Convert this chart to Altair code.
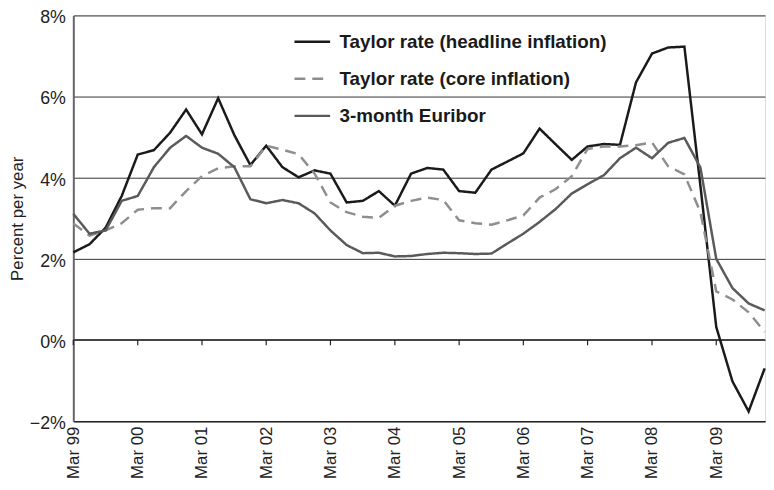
import altair as alt
import pandas as pd

# Quarterly observations, Mar 1999 .. Dec 2009
years = list(range(1999, 2010))
quarter_months = ["03", "06", "09", "12"]
quarters = [f"{y}-{m}-01T00:00:00" for y in years for m in quarter_months]

headline = [2.16, 2.36, 2.77, 3.55, 4.57, 4.68, 5.11, 5.68, 5.07, 5.96, 5.05, 4.31,
            4.79, 4.26, 4.01, 4.18, 4.10, 3.39, 3.43, 3.67, 3.31, 4.10, 4.24, 4.20,
            3.67, 3.63, 4.20, 4.40, 4.60, 5.21, 4.82, 4.44, 4.77, 4.83, 4.81, 6.35,
            7.06, 7.21, 7.23, 3.80, 0.32, -1.02, -1.76, -0.70]
core = [2.87, 2.57, 2.70, 2.88, 3.21, 3.25, 3.25, 3.67, 4.04, 4.23, 4.28, 4.28,
        4.79, 4.69, 4.58, 4.10, 3.39, 3.15, 3.04, 3.01, 3.31, 3.43, 3.51, 3.45,
        2.95, 2.88, 2.84, 2.95, 3.07, 3.51, 3.72, 4.04, 4.71, 4.77, 4.77, 4.80,
        4.87, 4.28, 4.08, 3.15, 1.20, 1.00, 0.68, 0.20]
euribor = [3.11, 2.62, 2.70, 3.43, 3.55, 4.26, 4.74, 5.03, 4.74, 4.59, 4.26, 3.47,
           3.37, 3.45, 3.37, 3.12, 2.70, 2.34, 2.14, 2.15, 2.06, 2.07, 2.12, 2.15,
           2.14, 2.12, 2.13, 2.38, 2.62, 2.91, 3.23, 3.61, 3.84, 4.06, 4.48, 4.74,
           4.48, 4.86, 4.98, 4.25, 2.00, 1.28, 0.90, 0.73]

series_names = ["Taylor rate (headline inflation)", "Taylor rate (core inflation)", "3-month Euribor"]
series_colors = ["#1a1a1a", "#8e8e8e", "#5a5a5a"]
series_dashes = [[1, 0], [11, 7], [1, 0]]

tick_dates = [f"{y}-03-01T00:00:00" for y in years]
y_ticks = [-2, 0, 2, 4, 6, 8]

rows = []
for name, vals in zip(series_names, [headline, core, euribor]):
    for q, v in zip(quarters, vals):
        rows.append({"date": q, "value": v, "series": name})
df = pd.DataFrame(rows)
ticks_df = pd.DataFrame({"date": tick_dates})

FONT = "Liberation Sans"

x_scale = alt.Scale(domain=[alt.DateTime(year=1999, month=3, date=1),
                            alt.DateTime(year=2009, month=12, date=3)], nice=False)
y_scale = alt.Scale(domain=[-2, 8], nice=False)

legend_kw = dict(title=None, orient="none", legendX=222, legendY=7,
                 symbolType="stroke", symbolSize=1296, symbolStrokeWidth=2.5,
                 labelOffset=8, labelFont=FONT, labelFontSize=19,
                 labelFontWeight="bold", labelColor="#1a1a1a",
                 rowPadding=7.5, padding=0, labelLimit=500)

lines = alt.Chart(df).mark_line(strokeWidth=2.5).encode(
    x=alt.X("date:T", scale=x_scale,
            axis=alt.Axis(values=[alt.DateTime(year=y, month=3, date=1) for y in years],
                          format="%b %y", labelAngle=270, labelAlign="right",
                          labelBaseline="middle", labelPadding=5, ticks=False,
                          grid=False, domain=True, domainColor="#222", domainWidth=1.5,
                          labelFont=FONT, labelFontSize=17, labelColor="#222",
                          title=None)),
    y=alt.Y("value:Q", scale=y_scale,
            axis=alt.Axis(values=y_ticks, grid=True, gridColor="#333", gridWidth=1,
                          ticks=False, domain=True, domainColor="#666", domainWidth=2,
                          labelExpr="(datum.value < 0 ? '\u2212' + abs(datum.value) : datum.value) + '%'",
                          labelFont=FONT, labelFontSize=18, labelColor="#222", labelPadding=8,
                          labelOffset=2.5,
                          title="Percent per year", titleFont=FONT, titleFontSize=17,
                          titleFontWeight="normal", titleColor="#222", titlePadding=3)),
    color=alt.Color("series:N", sort=series_names,
                    scale=alt.Scale(domain=series_names, range=series_colors),
                    legend=alt.Legend(**legend_kw)),
    strokeDash=alt.StrokeDash("series:N", sort=series_names,
                              scale=alt.Scale(domain=series_names, range=series_dashes),
                              legend=alt.Legend(**legend_kw)),
)

zero_line = alt.Chart(ticks_df).mark_rule(color="#444", strokeWidth=2).encode(
    y=alt.datum(0)
)

zero_ticks = alt.Chart(ticks_df).mark_rule(color="#222", strokeWidth=1.2).encode(
    x=alt.X("date:T", scale=x_scale),
    y=alt.datum(0),
    y2=alt.datum(-0.13),
)

chart = alt.layer(zero_line, zero_ticks, lines).properties(
    width=699, height=410,
    autosize=alt.AutoSizeParams(type="none"),
    padding={"left": 66, "top": 5, "right": 1, "bottom": 59},
).configure_view(stroke=None).configure(background="white")

chart.save("out.html", embed_options={"renderer": "svg", "actions": False})
